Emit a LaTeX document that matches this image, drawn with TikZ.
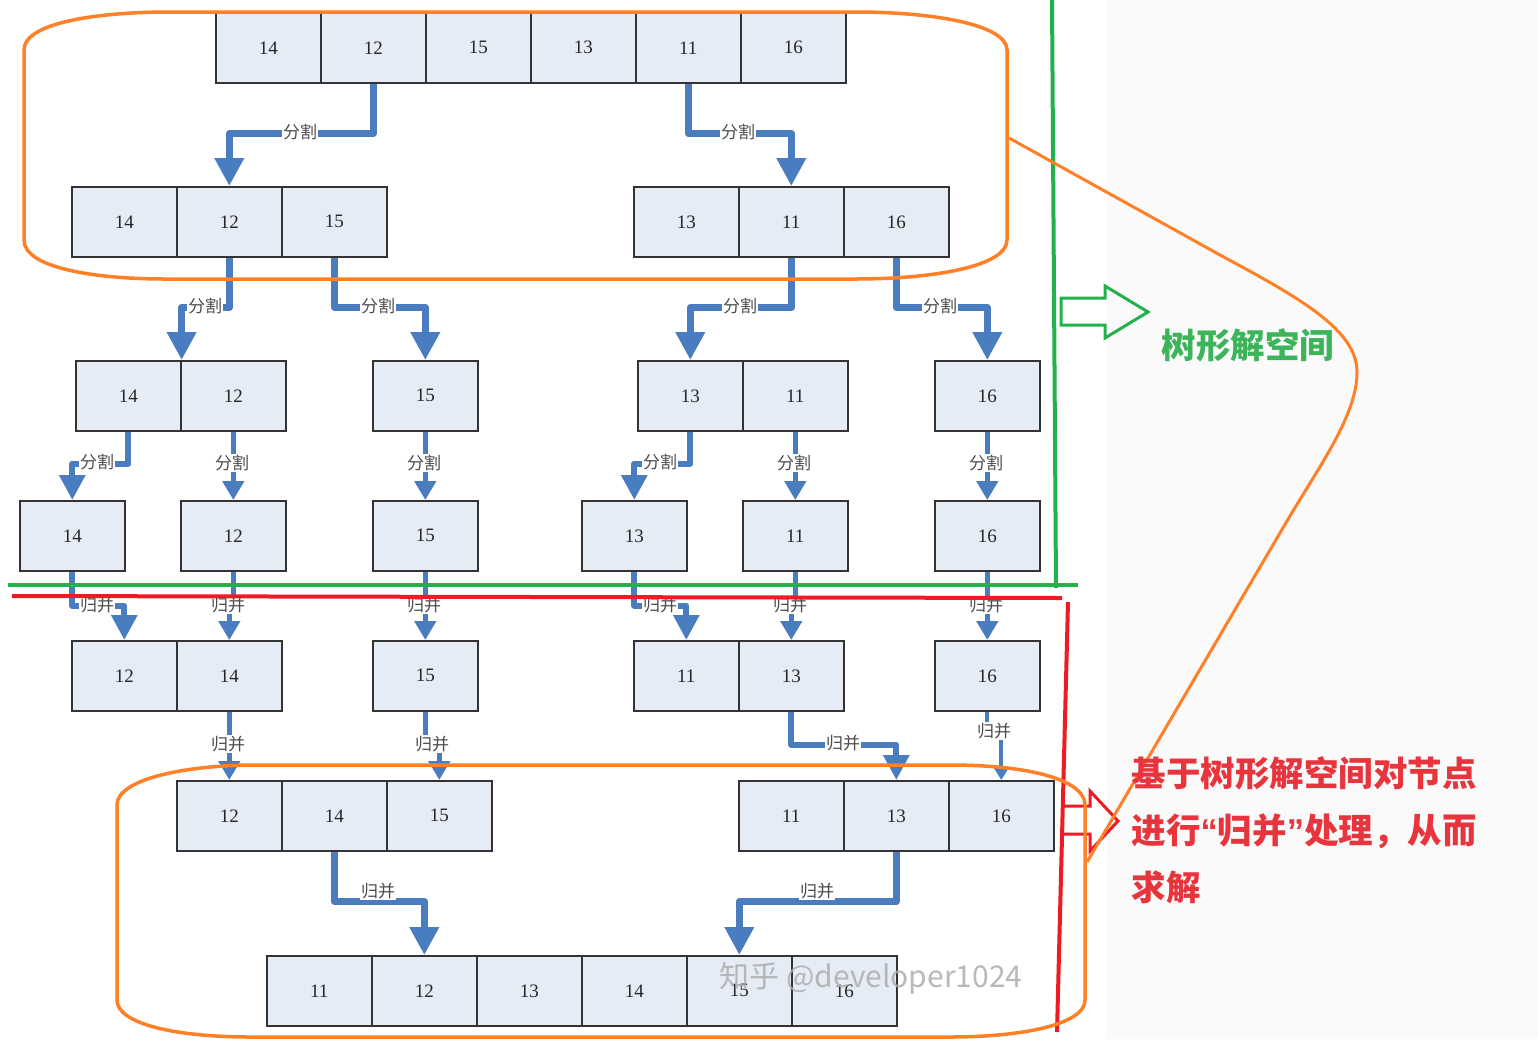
\documentclass[tikz,border=0pt]{standalone}
\usepackage{fontspec}
\setmainfont{Liberation Serif}
\newfontfamily\cjk{Noto Sans CJK SC}
\newfontfamily\qf{Liberation Sans}
\usetikzlibrary{arrows.meta}
\definecolor{cellfill}{HTML}{E6ECF6}
\definecolor{cellline}{HTML}{333333}
\definecolor{flowblue}{HTML}{4A7CC0}
\definecolor{orng}{HTML}{FF8027}
\definecolor{grn}{HTML}{22B14C}
\definecolor{rd}{HTML}{ED1C24}
\definecolor{grntext}{HTML}{3CB55A}
\definecolor{rdtext}{HTML}{E8343C}
\begin{document}
\begin{tikzpicture}[x=1pt,y=-1pt,
  cell/.style={draw=cellline,line width=1.6pt,fill=cellfill,minimum width=105pt,minimum height=70pt,
    inner sep=0pt,anchor=north west,font=\fontsize{19}{19}\selectfont,text=black!85},
  flowL/.style={draw=flowblue,line width=7pt,line join=round,-{Triangle[width=28pt,length=28pt]}},
  flowM/.style={draw=flowblue,line width=6pt,line join=round,-{Triangle[width=25pt,length=25pt]}},
  flowS/.style={draw=flowblue,line width=5.5pt,line join=round,-{Triangle[width=21pt,length=19pt]}},
  flowT/.style={draw=flowblue,line width=4pt,line join=round,-{Triangle[width=14pt,length=12pt]}},
  lbl/.style={fill=white,inner sep=1pt,font=\cjk\fontsize{17}{17}\selectfont,text=black!70},
  orange/.style={draw=orng,line width=3.5pt},
  redtext/.style={anchor=base west,font=\cjk\bfseries\fontsize{34.5}{34.5}\selectfont,text=rdtext},
]
\useasboundingbox (0,0) rectangle (1538,1039);
\fill[white] (0,0) rectangle (1107,1039);
\fill[black!2] (1107,0) rectangle (1538,1039);

% ---------- cells ----------
\foreach \v [count=\i] in {14,12,15,13,11,16}
  \node[cell] (r1-\i) at ({215+105*(\i-1)},12) {\v};
\foreach \v [count=\i] in {14,12,15}
  \node[cell] (r2-\i) at ({71+105*(\i-1)},186) {\v};
\foreach \v [count=\i from 4] in {13,11,16}
  \node[cell] (r2-\i) at ({633+105*(\i-4)},186) {\v};
\node[cell] (r3-1) at (75,360) {14};
\node[cell] (r3-2) at (180,360) {12};
\node[cell] (r3-3) at (372,360) {15};
\node[cell] (r3-4) at (637,360) {13};
\node[cell] (r3-5) at (742,360) {11};
\node[cell] (r3-6) at (934,360) {16};
\node[cell] (r4-1) at (19,500) {14};
\node[cell] (r4-2) at (180,500) {12};
\node[cell] (r4-3) at (372,500) {15};
\node[cell] (r4-4) at (581,500) {13};
\node[cell] (r4-5) at (742,500) {11};
\node[cell] (r4-6) at (934,500) {16};
\node[cell] (r5-1) at (71,640) {12};
\node[cell] (r5-2) at (176,640) {14};
\node[cell] (r5-3) at (372,640) {15};
\node[cell] (r5-4) at (633,640) {11};
\node[cell] (r5-5) at (738,640) {13};
\node[cell] (r5-6) at (934,640) {16};
\foreach \v [count=\i] in {12,14,15}
  \node[cell] (r6-\i) at ({176+105*(\i-1)},780) {\v};
\foreach \v [count=\i from 4] in {11,13,16}
  \node[cell] (r6-\i) at ({738+105*(\i-4)},780) {\v};
\foreach \v [count=\i] in {11,12,13,14,15,16}
  \node[cell] (r7-\i) at ({266+105*(\i-1)},955) {\v};

% ---------- arrows ----------
\draw[flowL] (r1-2.south) -- ++(0,50) -| (r2-2.north);
\draw[flowL] (r1-5.south) -- ++(0,50) -| (r2-5.north);
\draw[flowL] (r2-2.south) -- ++(0,50) -| (r3-1.north east);
\draw[flowL] (r2-3.south) -- ++(0,50) -| (r3-3.north);
\draw[flowL] (r2-5.south) -- ++(0,50) -| (r3-4.north);
\draw[flowL] (r2-6.south) -- ++(0,50) -| (r3-6.north);

\draw[flowM] (r3-1.south) -- ++(0,32) -| (r4-1.north);
\draw[flowS] (r3-2.south) -- (r4-2.north);
\draw[flowS] (r3-3.south) -- (r4-3.north);
\draw[flowM] (r3-4.south) -- ++(0,32) -| (r4-4.north);
\draw[flowS] (r3-5.south) -- (r4-5.north);
\draw[flowS] (r3-6.south) -- (r4-6.north);

\draw[flowM] (r4-1.south) -- ++(0,34) -| (r5-1.north);
\draw[flowS] (r4-2.south) -- ++(0,34) -| (r5-2.north);
\draw[flowS] (r4-3.south) -- (r5-3.north);
\draw[flowM] (r4-4.south) -- ++(0,34) -| (r5-4.north);
\draw[flowS] (r4-5.south) -- ++(0,34) -| (r5-5.north);
\draw[flowS] (r4-6.south) -- (r5-6.north);

\draw[flowS] (r5-2.south) -- (r6-1.north);
\draw[flowS] (r5-3.south) -- ++(0,34) -| (r6-3.north);
\draw[flowM] (r5-5.south) -- ++(0,33) -| (r6-5.north);
\draw[flowT] (r5-6.south) -- ++(0,21) -| (r6-6.north);

\draw[flowL] (r6-2.south) -- ++(0,50) -| (r7-2.north);
\draw[flowL] (r6-5.south) -- ++(0,50) -| (r7-5.north);

% ---------- arrow labels ----------
\node[lbl] (l1) at (300,132) {分割};
\node[lbl] (l2) at (738,132) {分割};
\node[lbl] (l3) at (205,306) {分割};
\node[lbl] (l4) at (378,306) {分割};
\node[lbl] (l5) at (740,306) {分割};
\node[lbl] (l6) at (940,306) {分割};
\node[lbl] (l7) at (97,462) {分割};
\node[lbl] (l8) at (232,463) {分割};
\node[lbl] (l9) at (424,463) {分割};
\node[lbl] (l10) at (660,462) {分割};
\node[lbl] (l11) at (794,463) {分割};
\node[lbl] (l12) at (986,463) {分割};
\node[lbl] (l13) at (97,605) {归并};
\node[lbl] (l14) at (228,605) {归并};
\node[lbl] (l15) at (424,605) {归并};
\node[lbl] (l16) at (660,605) {归并};
\node[lbl] (l17) at (790,605) {归并};
\node[lbl] (l18) at (986,605) {归并};
\node[lbl] (l19) at (228,744) {归并};
\node[lbl] (l20) at (432,744) {归并};
\node[lbl] (l21) at (843,743) {归并};
\node[lbl] (l22) at (994,731) {归并};
\node[lbl] (l23) at (378,891) {归并};
\node[lbl] (l24) at (817,891) {归并};

% ---------- watermark ----------
\node[font=\cjk\fontsize{30}{30}\selectfont,text=black!32,opacity=0.85] (wm) at (871,978) {知乎 @developer1024};

% ---------- green / red annotation ----------
\draw[grn,line width=4pt] (1052,0) -- (1056,588);
\draw[grn,line width=4pt] (8,585) -- (1078,585);
\draw[grn,line width=3pt,line join=miter] (1061,298) -- (1105,298) -- (1105,286) -- (1148,312) -- (1105,338) -- (1105,325) -- (1061,325) -- cycle;
\draw[rd,line width=4pt] (12,596) -- (1062,598);
\draw[rd,line width=4pt] (1068,602) -- (1057,1032);
\draw[rd,line width=3pt,line join=miter] (1063,806) -- (1090,806) -- (1090,791) -- (1118,821) -- (1090,851) -- (1090,834) -- (1063,834);

% ---------- orange outlines ----------
\draw[orange] (24,50) .. controls (24,22) and (100,12) .. (170,12) -- (855,12)
  .. controls (935,12) and (1007,25) .. (1007,50) -- (1007,240)
  .. controls (1007,266) and (935,279) .. (855,279) -- (165,279)
  .. controls (95,279) and (24,268) .. (24,240) -- cycle;
\draw[orange] (117,805) .. controls (117,778) and (190,765) .. (255,765) -- (950,765)
  .. controls (1030,765) and (1085,780) .. (1085,805) -- (1085,1000)
  .. controls (1085,1025) and (1020,1037) .. (950,1037) -- (250,1037)
  .. controls (180,1037) and (117,1025) .. (117,1000) -- cycle;
\draw[orange,line width=3pt,line join=round] (1009,138) -- (1220,255)
  .. controls (1300,298) and (1357,330) .. (1357,372)
  .. controls (1357,415) and (1320,465) .. (1287,521) -- (1087,862);

% ---------- texts ----------
\node[font=\cjk\bfseries\fontsize{34.5}{34.5}\selectfont,text=grntext] (t1) at (1248,345) {树形解空间};
\node[redtext] (t2) at (1128,786) {基于树形解空间对节点};
\node[redtext] (t3) at (1128,843) {进行{\qf\bfseries “}归并{\qf\bfseries ”}处理，从而};
\node[redtext] (t4) at (1128,900) {求解};
\end{tikzpicture}
\end{document}
